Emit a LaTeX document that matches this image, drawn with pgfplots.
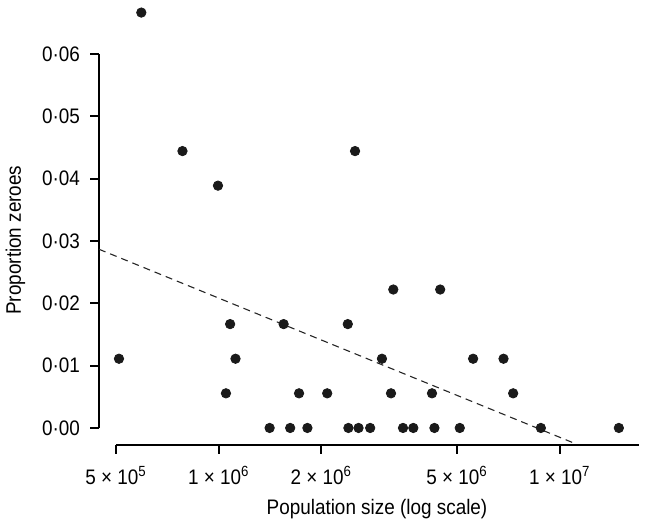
\documentclass[border=0pt]{standalone}
\usepackage{pgfplots}
\pgfplotsset{compat=1.18}
\usepackage{fontspec}
\setmainfont{Liberation Sans}[FakeStretch=0.9]
\definecolor{dot}{HTML}{1A1A1A}

\pgfplotstableread{
x y
5.93e5 0.06667
7.83e5 0.04444
9.95e5 0.03889
2.51e6 0.04444
5.10e5 0.01111
1.08e6 0.01667
1.12e6 0.01111
1.05e6 0.00556
1.55e6 0.01667
1.72e6 0.00556
2.08e6 0.00556
2.39e6 0.01667
3.01e6 0.01111
3.25e6 0.02222
3.20e6 0.00556
4.22e6 0.00556
4.46e6 0.02222
5.57e6 0.01111
6.84e6 0.01111
7.30e6 0.00556
1.41e6 0
1.62e6 0
1.82e6 0
2.40e6 0
2.57e6 0
2.78e6 0
3.47e6 0
3.72e6 0
4.29e6 0
5.09e6 0
8.80e6 0
1.49e7 0
}\pts

\begin{document}
\begin{tikzpicture}
\path[use as bounding box] (-49.5pt,-42.7pt) rectangle (275pt,222.3pt);
\begin{axis}[
  scale only axis, width=269.9pt, height=224.2pt,
  xmode=log, xmin=4.457e5, xmax=1.705e7, ymin=-0.00267, ymax=0.0693,
  clip=false,
  axis line style={draw=none},
  tick align=outside, xtick pos=bottom, ytick pos=left,
  major tick length=4.5pt,
  every tick/.style={black, line width=1pt},
  xminorticks=false,
  xtick={5e5,1e6,2e6,5e6,1e7},
  xticklabels={5 × 10\textsuperscript{5},1 × 10\textsuperscript{6},2 × 10\textsuperscript{6},5 × 10\textsuperscript{6},1 × 10\textsuperscript{7}},
  ytick={0,0.01,0.02,0.03,0.04,0.05,0.06},
  yticklabels={0·00,0·01,0·02,0·03,0·04,0·05,0·06},
  tick label style={font=\fontsize{10.5}{12}\selectfont, text=black},
  xticklabel style={yshift=-3pt},
  yticklabel style={xshift=-1.5pt},
  label style={font=\fontsize{10.5}{12}\selectfont, text=black},
  xlabel={Population size (log scale)},
  ylabel={Proportion zeroes},
  xlabel style={at={(axis description cs:0.515,0)}, anchor=base, yshift=-35.2pt},
  ylabel style={at={(axis description cs:-0.1547,0.456)}, anchor=center},
]
\draw[line width=1pt, black] (axis cs:4.457e5,0) -- (axis cs:4.457e5,0.06);
\draw[line width=1pt, black] (axis cs:5e5,-0.00267) -- (axis cs:1.705e7,-0.00267);
\addplot[black!85, line width=0.55pt, dash pattern=on 3.5pt off 2.5pt] coordinates {(4.457e5,0.02868) (1.12e7,-0.0026)};
\addplot[only marks, mark=*, mark size=2.35pt, mark options={fill=dot, draw=dot}] table[x=x,y=y] {\pts};
\end{axis}
\end{tikzpicture}
\end{document}
